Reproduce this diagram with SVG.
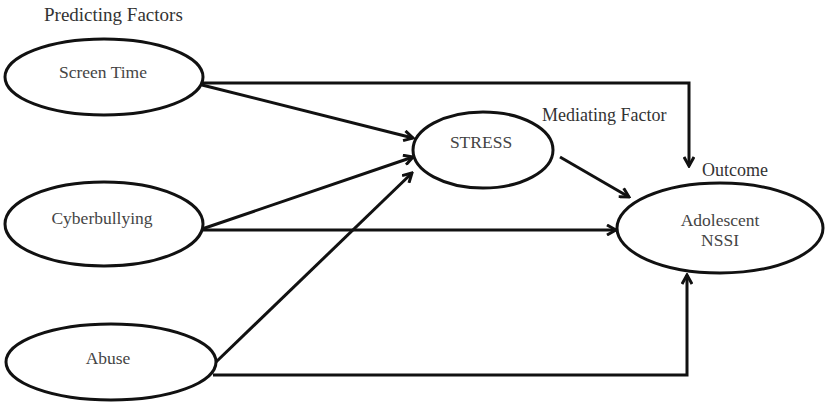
<svg xmlns="http://www.w3.org/2000/svg" width="829" height="410" viewBox="0 0 829 410">
<style>
.n{fill:#fff;stroke:#111;stroke-width:3}
.t{font-family:"Liberation Serif",serif;font-size:17.5px;fill:#444;text-anchor:middle}
.l{font-family:"Liberation Serif",serif;font-size:18px;fill:#333}
.c{fill:none;stroke:#111;stroke-width:3}
</style>
<defs>
<marker id="a" viewBox="0 0 12 12" refX="10" refY="6" markerWidth="12" markerHeight="12" markerUnits="userSpaceOnUse" orient="auto">
<polyline points="1,1 10,6 1,11" fill="none" stroke="#111" stroke-width="3"/>
</marker>
</defs>
<rect width="829" height="410" fill="#fff"/>
<text class="l" x="44" y="21" style="font-size:19px">Predicting Factors</text>
<text class="l" x="542" y="121">Mediating Factor</text>
<text class="l" x="702" y="176">Outcome</text>
<g id="connectors">
<polyline class="c" points="202,83 689,83 689,166" marker-end="url(#a)"/>
<line class="c" x1="202" y1="85" x2="413" y2="138" marker-end="url(#a)"/>
<line class="c" x1="202" y1="229" x2="413" y2="157" marker-end="url(#a)"/>
<line class="c" x1="202" y1="230" x2="616" y2="230" marker-end="url(#a)"/>
<line class="c" x1="216" y1="362" x2="412" y2="173" marker-end="url(#a)"/>
<polyline class="c" points="213,375 687,375 687,275" marker-end="url(#a)"/>
<line class="c" x1="560" y1="157" x2="629" y2="197" marker-end="url(#a)"/>
</g>
<g id="screen-time"><ellipse class="n" cx="104" cy="77" rx="99" ry="38"/><text class="t" x="103" y="78">Screen Time</text></g>
<g id="cyberbullying"><ellipse class="n" cx="104" cy="224" rx="99" ry="42"/><text class="t" x="102" y="224">Cyberbullying</text></g>
<g id="abuse"><ellipse class="n" cx="111" cy="362" rx="105" ry="38"/><text class="t" x="108" y="364">Abuse</text></g>
<g id="stress"><ellipse class="n" cx="483" cy="150" rx="70" ry="38"/><text class="t" x="481" y="148">STRESS</text></g>
<g id="nssi"><ellipse class="n" cx="720" cy="228" rx="103" ry="45"/><text class="t" x="720" y="226">Adolescent</text><text class="t" x="720" y="246">NSSI</text></g>
</svg>
